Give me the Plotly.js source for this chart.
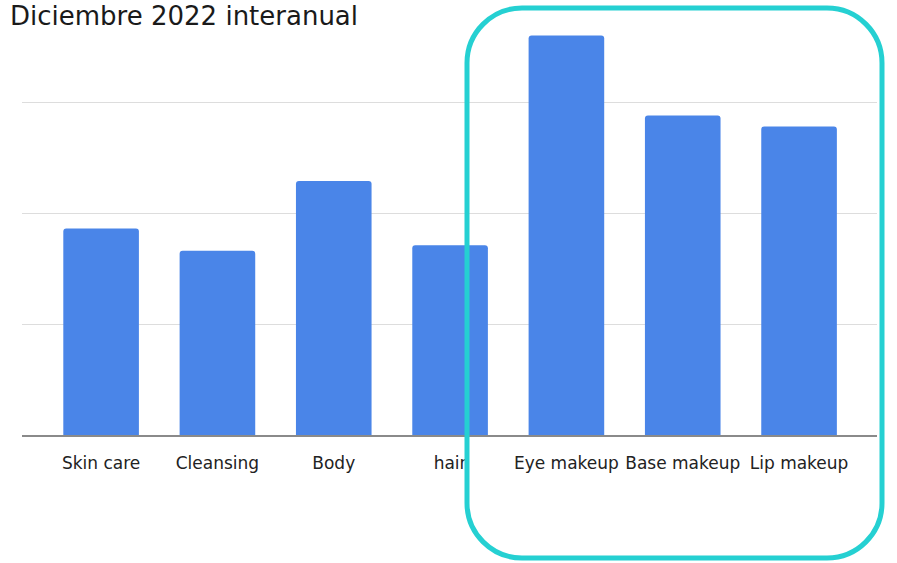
<!DOCTYPE html>
<html>
<head>
<meta charset="utf-8">
<script src="https://cdn.plot.ly/plotly-3.0.1.min.js"></script>
<style>html,body{margin:0;padding:0;background:#fff;}#chart{width:897px;height:563px;}</style>
</head>
<body>
<div id="chart"></div>
<script>
// Data (y-axis has no labels; values in gridline units x10)
var categories = ["Skin care", "Cleansing", "Body", "hair", "Eye makeup", "Base makeup", "Lip makeup"];
var values = [18.6, 16.6, 22.9, 17.1, 36.0, 28.8, 27.8];
var chartTitle = "Diciembre 2022 interanual";

var W = 897, H = 563;
var mL = 22, mR = 20, mT = 30, mB = 128;
var plotW = W - mL - mR, plotH = H - mT - mB;
function px(x){ return (x - mL) / plotW; }
function py(y){ return (H - mB - y) / plotH; }

// rounded highlight rectangle (pixel geometry converted to paper coords)
function roundRect(x0, y0, x1, y1, r){
  var k = 0.5523 * r;
  function P(x, y){ return px(x).toFixed(5) + "," + py(y).toFixed(5); }
  return "M" + P(x0 + r, y0) +
    " L" + P(x1 - r, y0) +
    " C" + P(x1 - r + k, y0) + " " + P(x1, y0 + r - k) + " " + P(x1, y0 + r) +
    " L" + P(x1, y1 - r) +
    " C" + P(x1, y1 - r + k) + " " + P(x1 - r + k, y1) + " " + P(x1 - r, y1) +
    " L" + P(x0 + r, y1) +
    " C" + P(x0 + r - k, y1) + " " + P(x0, y1 - r + k) + " " + P(x0, y1 - r) +
    " L" + P(x0, y0 + r) +
    " C" + P(x0, y0 + r - k) + " " + P(x0 + r - k, y0) + " " + P(x0 + r, y0) + " Z";
}

var font = "'DejaVu Sans', 'Noto Sans', sans-serif";

var trace = {
  type: "bar",
  x: categories,
  y: values,
  marker: { color: "#4a85e8", cornerradius: 3 },
  hoverinfo: "x+y"
};

var layout = {
  width: W, height: H,
  margin: { l: mL, r: mR, t: mT, b: mB, pad: 0 },
  paper_bgcolor: "#ffffff",
  plot_bgcolor: "#ffffff",
  showlegend: false,
  bargap: 0.35,
  title: {
    text: chartTitle,
    font: { family: font, size: 26, color: "#1a1a1a" },
    x: 10 / W, xanchor: "left", xref: "container",
    y: 1 - 16 / H, yanchor: "middle", yref: "container"
  },
  xaxis: {
    type: "category",
    range: [-0.68, 6.67],
    showgrid: false,
    showline: true, linecolor: "#8a8a8a", linewidth: 2,
    ticks: "", zeroline: false,
    tickfont: { family: font, size: 17, color: "#222" },
    ticklabelstandoff: 12,
    fixedrange: true
  },
  yaxis: {
    range: [0, 36.5],
    dtick: 10,
    showticklabels: false,
    showgrid: true, gridcolor: "#dddddd", gridwidth: 1,
    zeroline: false, showline: false, ticks: "",
    fixedrange: true
  },
  shapes: [{
    type: "path",
    xref: "paper", yref: "paper",
    path: roundRect(467, 8, 882, 558, 55),
    line: { color: "#25d0d2", width: 5 },
    fillcolor: "rgba(0,0,0,0)",
    layer: "above"
  }]
};

Plotly.newPlot("chart", [trace], layout, { displayModeBar: false, staticPlot: true });
</script>
</body>
</html>
